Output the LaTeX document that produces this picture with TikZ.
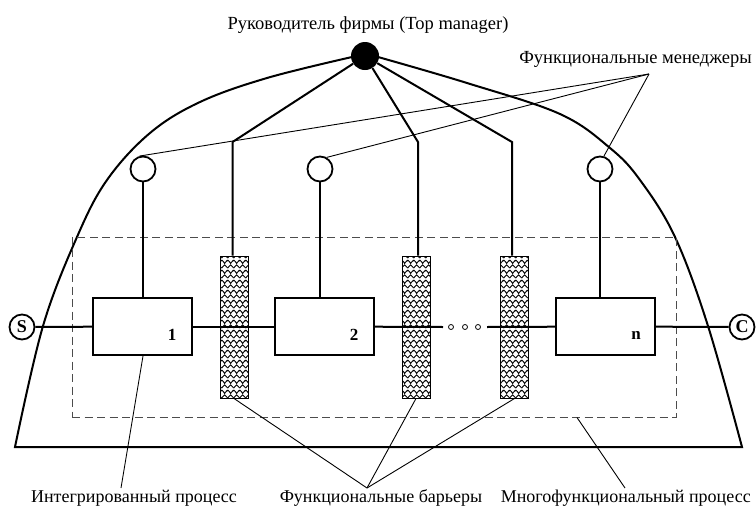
\documentclass[tikz,border=0pt]{standalone}
\usepackage{fontspec}
\setmainfont{Liberation Serif}
\usetikzlibrary{patterns.meta}

% woven texture of the functional barriers
\tikzdeclarepattern{
  name=weave,
  type=uncolored,
  bounding box={(0pt,0pt) and (6pt,10pt)},
  tile size={(6pt,10pt)},
  code={
    \draw[line width=1pt] (-0.5pt,1pt) -- (3pt,4.5pt) -- (6.5pt,1pt);
    \draw[line width=1pt] (-3.5pt,6pt) -- (0pt,9.5pt) -- (3.5pt,6pt);
    \draw[line width=1pt] (2.5pt,6pt) -- (6pt,9.5pt) -- (9.5pt,6pt);
  }
}

\begin{document}
\begin{tikzpicture}[x=1pt,y=-1pt,
  heavy/.style={line width=2pt},
  fine/.style={line width=0.9pt},
  unit/.style={draw, line width=2pt, minimum width=99pt, minimum height=57pt, inner sep=0pt},
  barrier/.style={draw, line width=1pt, pattern=weave, minimum width=28pt, minimum height=142pt, inner sep=0pt},
  mgr/.style={circle, draw, line width=1.8pt, minimum size=25pt, inner sep=0pt},
  endpt/.style={circle, draw, line width=1.8pt, minimum size=25pt, inner sep=0pt, font=\bfseries\fontsize{18}{20}\selectfont},
  num/.style={font=\bfseries\fontsize{17}{20}\selectfont, inner sep=0pt},
  lbl/.style={font=\fontsize{18.5}{22}\selectfont, inner sep=0pt},
  lblb/.style={font=\fontsize{18}{22}\selectfont, inner sep=0pt},
  smalldot/.style={circle, draw, line width=0.8pt, minimum size=5pt, inner sep=0pt}
]
\useasboundingbox (0,0) rectangle (756,509);

% outer dome of the firm
\draw[heavy, line join=miter]
  plot[smooth, tension=0.6] coordinates {(352,57) (267,78) (200,102) (150,133) (107,180) (77,237) (43,326) (15,447)}
  -- plot[smooth, tension=0.6] coordinates {(742,447) (708,326) (675,237) (640,180) (610,148) (560,114) (467,83) (378,57)};

% multifunctional process frame
\node[draw=black!70, line width=1pt, dash pattern=on 8pt off 4.5pt,
      minimum width=604pt, minimum height=180pt, inner sep=0pt] (proc) at (374,327) {};

% functional barriers
\node[barrier] (f1) at (234,327) {};
\node[barrier] (f2) at (416,327) {};
\node[barrier] (f3) at (514.5,327) {};

% process units
\node[unit] (b1) at (142.5,326.5) {};
\node[unit] (b2) at (324.5,326.5) {};
\node[unit] (bn) at (605.5,326.5) {};
\node[num] at (172,335) {1};
\node[num] at (354,335) {2};
\node[num] at (636,335) {n};

% start and end of the process
\node[endpt] (s) at (22,327) {S};
\node[endpt] (c) at (742,327) {C};

% dots in the chain
\node[smalldot] (d1) at (451,327) {};
\node[smalldot] (d2) at (465,327) {};
\node[smalldot] (d3) at (478,327) {};
\coordinate (g1) at (443,327);
\coordinate (g2) at (487,327);

% process flow
\draw[heavy] (s) -- (b1);
\draw[heavy] (b1) -- (b2);
\draw[heavy] (b2) -- (g1);
\draw[heavy] (g2) -- (bn);
\draw[heavy] (bn) -- (c);

% functional managers
\node[mgr] (m1) at (143,169) {};
\node[mgr] (m2) at (320,169) {};
\node[mgr] (mn) at (600,169) {};
\draw[heavy] (m1) -- (m1 |- b1.north);
\draw[heavy] (m2) -- (m2 |- b2.north);
\draw[heavy] (mn) -- (mn |- bn.north);

% top manager and the barrier lines
\node[circle, fill=black, minimum size=28pt, inner sep=0pt] (top) at (365,56) {};
\coordinate (k1) at (232.5,142);
\coordinate (k2) at (418,142);
\coordinate (k3) at (512,142);
\draw[heavy, line join=miter] (top) -- (k1) -- (k1 |- f1.north);
\draw[heavy, line join=miter] (top) -- (k2) -- (k2 |- f2.north);
\draw[heavy, line join=miter] (top) -- (k3) -- (k3 |- f3.north);

% labels
\node[lbl, anchor=base] (ttop) at (368,29) {Руководитель фирмы (Top manager)};
\node[lbl, anchor=base east] (tfm) at (752,63) {Функциональные менеджеры};
\node[lblb, anchor=base] (tint) at (134,502) {Интегрированный процесс};
\node[lblb, anchor=base] (tbar) at (381,502) {Функциональные барьеры};
\node[lblb, anchor=base east] (tmul) at (751,502) {Многофункциональный процесс};

% label pointers
\coordinate (pfm) at (649,74);
\draw[fine] (pfm) -- (m1.105);
\draw[fine] (pfm) -- (m2.60);
\draw[fine] (pfm) -- (mn.73);

\coordinate (pint) at (121,488);
\coordinate (pint0) at (143,0);
\draw[fine] (b1.south -| pint0) -- (pint);

\coordinate (pbar) at (367,488);
\draw[fine] (f1.south) -- (pbar);
\draw[fine] (f2.south) -- (pbar);
\draw[fine] (f3.south) -- (pbar);

\coordinate (pmul) at (625,488);
\coordinate (pmul0) at (577,0);
\draw[fine] (proc.south -| pmul0) -- (pmul);
\end{tikzpicture}
\end{document}
